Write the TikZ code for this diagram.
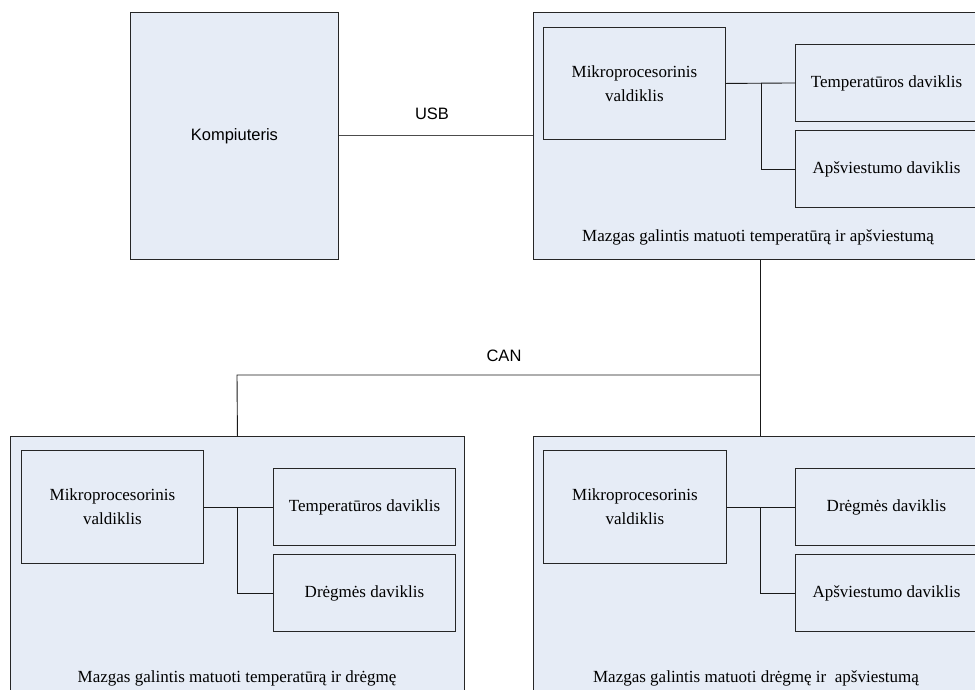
\documentclass[tikz,border=0pt]{standalone}
\usepackage{fontspec}
\setmainfont{Liberation Serif}
\newfontfamily\arialfont{Liberation Sans}
\begin{document}
\begin{tikzpicture}[x=1pt,y=-1pt,
  panel/.style={draw=black!85, line width=0.9pt, fill=nodefill, anchor=north west, inner sep=0pt},
  part/.style={draw=black!85, line width=0.9pt, fill=nodefill, anchor=north west, inner sep=0pt,
    align=center, font=\fontsize{17}{24}\selectfont},
  foot/.style={font=\fontsize{17}{20}\selectfont, inner sep=0pt},
  tag/.style={font=\arialfont\fontsize{16.5}{20}\selectfont, inner sep=0pt},
  wire/.style={draw=black!70, line width=1pt},
  link/.style={draw=black!90, line width=0.9pt}]
\definecolor{nodefill}{HTML}{E6ECF6}
\useasboundingbox (0,0) rectangle (975,689);
\clip (0,0) rectangle (975,689);

% computer
\node[panel, minimum width=208pt, minimum height=247pt, font=\arialfont\fontsize{16.5}{20}\selectfont]
  (pc) at (130,12) {Kompiuteris};

% node 1: temperature + light
\node[panel, minimum width=454pt, minimum height=247pt] (n1) at (533,12) {};
\node[part, minimum width=182pt, minimum height=112pt] (m1) at (543,27) {Mikroprocesorinis\\valdiklis};
\node[part, minimum width=182pt, minimum height=77pt] (t1) at (795,44) {Temperatūros daviklis};
\node[part, minimum width=182pt, minimum height=77pt] (a1) at (795,130) {Apšviestumo daviklis};
\node[foot] (f1) at (758,237) {Mazgas galintis matuoti temperatūrą ir apšviestumą};

% node 2: temperature + humidity
\node[panel, minimum width=454pt, minimum height=270pt] (n2) at (10,436) {};
\node[part, minimum width=182pt, minimum height=113pt] (m2) at (21,450) {Mikroprocesorinis\\valdiklis};
\node[part, minimum width=182pt, minimum height=77pt] (t2) at (273,468) {Temperatūros daviklis};
\node[part, minimum width=182pt, minimum height=77pt] (d2) at (273,554) {Drėgmės daviklis};
\node[foot] (f2) at (237,678) {Mazgas galintis matuoti temperatūrą ir drėgmę};

% node 3: humidity + light
\node[panel, minimum width=454pt, minimum height=270pt] (n3) at (533,436) {};
\node[part, minimum width=183pt, minimum height=113pt] (m3) at (543,450) {Mikroprocesorinis\\valdiklis};
\node[part, minimum width=182pt, minimum height=77pt] (t3) at (795,468) {Drėgmės daviklis};
\node[part, minimum width=182pt, minimum height=77pt] (d3) at (795,554) {Apšviestumo daviklis};
\node[foot] (f3) at (756,678) {Mazgas galintis matuoti drėgmę ir~ apšviestumą};

% bus labels
\node[tag] (usb) at (432,114) {USB};
\node[tag] (can) at (504,356) {CAN};

% USB link
\draw[wire] (pc.east) -- (n1.west);

% CAN bus
\coordinate (busL) at (237,375);
\draw[link] (n1.south) -- (n3.north);
\draw[link] (n2.north) -- (busL) -- (busL -| n1.south);

% internal sensor wiring
\coordinate (j1) at (761,83);
\draw[link] (m1.east) -- (t1.west);
\draw[link] (j1) |- (a1.west);
\coordinate (j2) at (237,507);
\draw[link] (m2.east) -- (t2.west);
\draw[link] (j2) |- (d2.west);
\coordinate (j3) at (760,507);
\draw[link] (m3.east) -- (t3.west);
\draw[link] (j3) |- (d3.west);
\end{tikzpicture}
\end{document}
